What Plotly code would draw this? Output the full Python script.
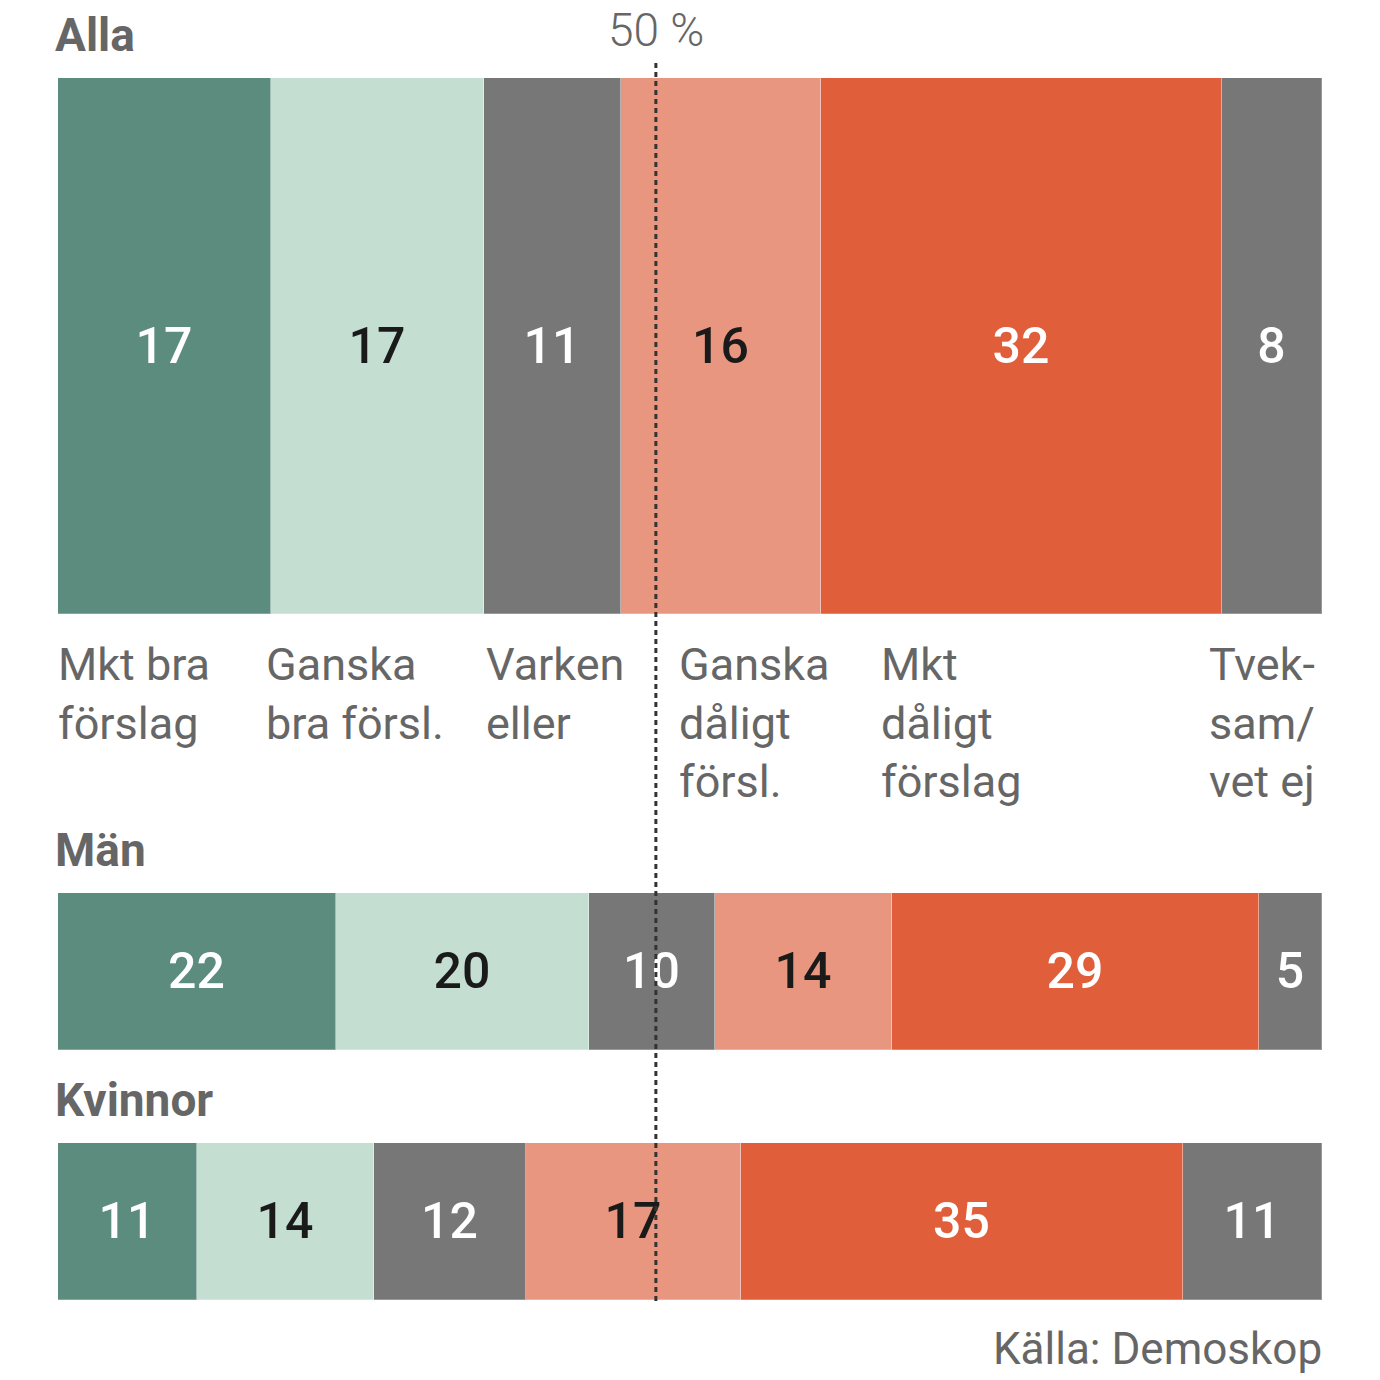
import plotly.graph_objects as go

groups = ["Alla", "Män", "Kvinnor"]
categories = ["Mkt bra förslag", "Ganska bra försl.", "Varken eller",
              "Ganska dåligt försl.", "Mkt dåligt förslag", "Tveksam/vet ej"]
category_labels = ["Mkt bra<br>förslag", "Ganska<br>bra försl.", "Varken<br>eller",
                   "Ganska<br>dåligt<br>försl.", "Mkt<br>dåligt<br>förslag", "Tvek-<br>sam/<br>vet ej"]
alla = [17, 17, 11, 16, 32, 8]
man = [22, 20, 10, 14, 29, 5]
kvinnor = [11, 14, 12, 17, 35, 11]
marker_50 = 47.3  # position of the "50 %" line as drawn in the source

bar_colors = ["#5b8c7e", "#c4dfd2", "#777777", "#e8967f", "#e05e3a", "#777777"]
text_colors = ["white", "#1a1a1a", "white", "#1a1a1a", "white", "white"]
label_gray = "#666666"
FONT = "Roboto"
OFF = 8          # page body margin
W = 1380 - OFF

def py(p):
    return 1 - (p - OFF) / W

def px(p):
    return (p - OFF) / W

fig = go.Figure()
series = [alla, man, kvinnor]
axes = [("x", "y"), ("x2", "y2"), ("x3", "y3")]
for g, vals, (xa, ya) in zip(groups, series, axes):
    for i, v in enumerate(vals):
        fig.add_trace(go.Bar(
            y=[g], x=[v], orientation="h", width=1,
            marker=dict(color=bar_colors[i], line=dict(width=1, color="rgba(255,255,255,0.25)")),
            text=[str(v)], textposition="inside", insidetextanchor="middle",
            textangle=0,
            textfont=dict(family=FONT, size=50, color=text_colors[i], weight=500),
            xaxis=xa, yaxis=ya, showlegend=False, hoverinfo="skip",
            name=categories[i],
        ))

xdom = [px(58), px(1322)]
common_x = dict(domain=xdom, showgrid=False, zeroline=False, showticklabels=False,
                ticks="", showline=False, fixedrange=True)
common_y = dict(showgrid=False, zeroline=False, showticklabels=False, ticks="",
                showline=False, range=[-0.5, 0.5], fixedrange=True)

fig.update_layout(
    width=W, height=W,
    margin=dict(l=0, r=0, t=0, b=0),
    paper_bgcolor="white", plot_bgcolor="white",
    barmode="stack", bargap=0,
    xaxis=dict(**common_x, range=[0, sum(alla)], anchor="y"),
    xaxis2=dict(**common_x, range=[0, sum(man)], anchor="y2"),
    xaxis3=dict(**common_x, range=[0, sum(kvinnor)], anchor="y3"),
    yaxis=dict(**common_y, domain=[py(614), py(78)], anchor="x"),
    yaxis2=dict(**common_y, domain=[py(1050), py(893)], anchor="x2"),
    yaxis3=dict(**common_y, domain=[py(1300), py(1143)], anchor="x3"),
)

# dotted reference line
fig.add_shape(type="line", xref="x2", yref="paper",
              x0=marker_50, x1=marker_50, y0=py(1301), y1=py(62),
              line=dict(color="#333333", width=3, dash="5px,4px"), layer="above")

annotations = []
# group titles
for g, ycap in zip(groups, [35, 850, 1100]):
    annotations.append(dict(text=g, x=px(53), y=py(ycap), xref="paper", yref="paper",
                            xanchor="left", yanchor="middle", showarrow=False,
                            font=dict(family=FONT, size=46, color=label_gray, weight="bold")))
annotations.append(dict(text="50 %", x=px(656), y=py(30), xref="paper", yref="paper",
                        xanchor="center", yanchor="middle", showarrow=False,
                        font=dict(family=FONT, size=46, color=label_gray, weight=300)))
# category labels below the Alla bar
label_x = [56, 264, 484, 677, 879, 1207]
for lx, lab in zip(label_x, category_labels):
    annotations.append(dict(text=lab, x=px(lx), y=py(636), xref="paper", yref="paper",
                            xanchor="left", yanchor="top", align="left", showarrow=False,
                            font=dict(family=FONT, size=45, color=label_gray)))
annotations.append(dict(text="Källa: Demoskop", x=px(1324), y=py(1349), xref="paper",
                        yref="paper", xanchor="right", yanchor="middle", showarrow=False,
                        font=dict(family=FONT, size=44, color=label_gray)))
fig.update_layout(annotations=annotations)

fig.write_html("out.html")
